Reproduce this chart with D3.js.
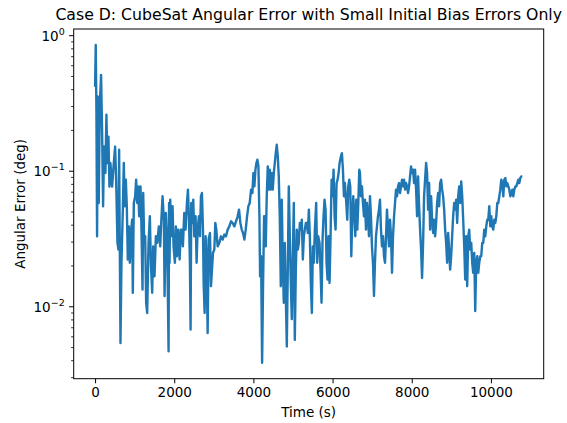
<!DOCTYPE html>
<html>
<head>
<meta charset="utf-8">
<script src="https://cdn.jsdelivr.net/npm/d3@7"></script>
<style>
  body { margin: 0; background: #fff; }
  svg text { font-family: "DejaVu Sans", sans-serif; fill: #000; }
</style>
</head>
<body>
<svg id="chart" width="567" height="423"></svg>
<script>
// time samples (s)
var times = [
  0, 17, 34, 51, 68, 93, 118, 152, 177, 203, 228, 262, 287, 312, 338, 363, 388, 431, 473, 507,
  532, 566, 591, 608, 625, 642, 667, 701, 726, 751, 777, 802, 827, 853, 878, 912, 937, 954, 979, 1013,
  1038, 1064, 1089, 1114, 1148, 1173, 1199, 1216, 1241, 1266, 1291, 1317, 1351, 1384, 1410, 1443, 1469, 1502, 1536, 1570,
  1612, 1646, 1671, 1705, 1739, 1756, 1789, 1823, 1857,
  1870, 1882, 1899, 1932, 1958, 1983, 2017, 2042, 2067, 2101, 2135, 2169, 2194, 2219, 2253, 2287, 2321, 2346, 2371, 2396,
  2413, 2430, 2456, 2481, 2506, 2540, 2565, 2591, 2624, 2650, 2675, 2700, 2726, 2743, 2768, 2793, 2818, 2844, 2869, 2903,
  2928, 2954, 2979, 3013, 3038, 3063, 3097, 3139, 3181, 3224, 3266, 3308, 3350, 3392, 3435, 3477, 3519, 3561, 3603, 3637,
  3671, 3705, 3738, 3772, 3806, 3840, 3873, 3907, 3941, 3975, 4000, 4025, 4051, 4076, 4101, 4127, 4152, 4169, 4194, 4220,
  4245, 4270,
  4287, 4312, 4337, 4363, 4388, 4413, 4439, 4464, 4489, 4515, 4540, 4565, 4590, 4616, 4641, 4666, 4692, 4717, 4742, 4768,
  4793, 4818, 4844, 4869, 4894, 4920, 4945, 4970, 4996, 5021, 5046, 5072, 5097, 5122, 5148, 5173, 5198, 5223, 5249, 5274,
  5299, 5325, 5350, 5375, 5401, 5426, 5451, 5477, 5502, 5527, 5553, 5586, 5612, 5637, 5671, 5696, 5721, 5747, 5772, 5797,
  5823, 5848, 5873, 5899, 5924, 5949, 5975, 6000, 6025, 6051, 6076, 6101, 6127, 6152, 6177, 6211, 6236, 6262, 6287, 6312,
  6346, 6371, 6397, 6422, 6447, 6473, 6498, 6523, 6549, 6574, 6599, 6625, 6650, 6675,
  6692, 6717, 6742, 6768, 6793, 6818, 6844, 6869, 6894, 6920, 6945, 6970, 6995, 7021, 7046, 7071, 7097, 7122, 7147, 7173,
  7198, 7223, 7249, 7274, 7299, 7325, 7350, 7375, 7401, 7426, 7451, 7477, 7502, 7527, 7553, 7578, 7603, 7628, 7654, 7679,
  7704, 7730, 7755, 7780, 7806, 7831, 7856, 7882, 7907, 7932, 7958, 7983, 8008, 8034, 8059, 8084, 8110, 8135, 8160, 8186,
  8211, 8236, 8261, 8287, 8312, 8337, 8363, 8388, 8413, 8439, 8464, 8489, 8515, 8540, 8565, 8591, 8616, 8641, 8667, 8692,
  8717, 8743, 8768, 8793, 8819, 8844, 8869, 8894, 8920, 8945, 8970, 8996, 9021, 9046, 9072,
  9098, 9123, 9148, 9174, 9199, 9224, 9250, 9275, 9300, 9326, 9351, 9376, 9401, 9427, 9452, 9477, 9503, 9528, 9553, 9579,
  9604, 9629, 9655, 9680, 9705, 9731, 9756, 9781, 9807, 9832, 9857, 9883, 9908, 9933, 9959, 9984, 10009, 10034, 10060, 10085,
  10110, 10136, 10161, 10186, 10212, 10237, 10262, 10288, 10313, 10338, 10364, 10389, 10414, 10440, 10465, 10490, 10516, 10541, 10566, 10591,
  10617, 10642, 10667, 10693, 10718, 10743, 10769, 10794
];

// angular error (deg)
var angErr = [
  0.42, 0.855, 0.284, 0.0331, 0.356, 0.0583, 0.300, 0.514, 0.202, 0.0551, 0.152, 0.097, 0.261, 0.115, 0.18, 0.077, 0.115, 0.077, 0.115, 0.152,
  0.087, 0.0296, 0.0264, 0.144, 0.0264, 0.0054, 0.0211, 0.0521, 0.115, 0.0551, 0.0866, 0.0551, 0.0223, 0.0392, 0.0211, 0.0371, 0.0439, 0.0127, 0.0583, 0.0653,
  0.0866, 0.0583, 0.0773, 0.0465, 0.0773, 0.0371, 0.0134, 0.0691, 0.0296, 0.0331, 0.0107, 0.0090, 0.0296, 0.0465, 0.0211, 0.0127, 0.0279, 0.0168, 0.0331, 0.0296,
  0.0392, 0.0279, 0.0415, 0.0653, 0.0439, 0.0120, 0.0492, 0.0296, 0.0047,
  0.0583, 0.0211, 0.0617, 0.0331, 0.0551, 0.0279, 0.0211, 0.0392, 0.0236, 0.0371, 0.0223, 0.0371, 0.0371, 0.0279, 0.0492, 0.0371, 0.0583, 0.0731, 0.0465, 0.0211,
  0.0068, 0.0583, 0.0415, 0.0617, 0.0331, 0.0465, 0.0211, 0.0371, 0.0465, 0.0331, 0.0653, 0.0691, 0.0371, 0.0150, 0.0090, 0.0331, 0.0211, 0.0064, 0.0313, 0.0350,
  0.0142, 0.0188, 0.0250, 0.0264, 0.0415, 0.0371, 0.0279, 0.0296, 0.0331, 0.0313, 0.0341, 0.0331, 0.0371, 0.0392, 0.0427, 0.0415, 0.0392, 0.0427, 0.0465, 0.0521,
  0.0415, 0.0371, 0.0350, 0.0313, 0.0371, 0.0465, 0.0551, 0.0583, 0.0731, 0.0691, 0.0969, 0.0773, 0.1026, 0.1149, 0.1216, 0.1085, 0.0465, 0.0168, 0.0236, 0.00386,
  0.0150, 0.0465,
  0.0465, 0.0279, 0.0653, 0.1085, 0.0731, 0.1026, 0.0731, 0.0969, 0.0731, 0.0969, 0.1149, 0.136, 0.1567, 0.1286, 0.0916, 0.0465, 0.0142, 0.0617, 0.0211, 0.0107,
  0.0296, 0.0120, 0.0051, 0.0188, 0.0773, 0.0331, 0.0150, 0.0081, 0.0236, 0.0583, 0.0057, 0.0188, 0.0371, 0.0264, 0.0296, 0.0415, 0.0371, 0.0439, 0.0223, 0.0331,
  0.0371, 0.0415, 0.0415, 0.0350, 0.0521, 0.0331, 0.0150, 0.0090, 0.0279, 0.0211, 0.0371, 0.0583, 0.0211, 0.0331, 0.0296, 0.0188, 0.0107, 0.0313, 0.0465, 0.0617,
  0.0521, 0.0211, 0.0159, 0.0331, 0.0150, 0.0331, 0.0866, 0.0653, 0.1026, 0.0465, 0.0371, 0.0818, 0.0866, 0.0969, 0.1149, 0.1286, 0.136, 0.1026, 0.0653, 0.0818,
  0.0583, 0.0439, 0.0773, 0.0866, 0.0773, 0.0236, 0.0465, 0.0653, 0.0465, 0.0331, 0.0617, 0.0371, 0.0583, 0.1026,
  0.0969, 0.0653, 0.0773, 0.0583, 0.0465, 0.0617, 0.0371, 0.0583, 0.0465, 0.0331, 0.0653, 0.0465, 0.0279, 0.0211, 0.0120, 0.0211, 0.0331, 0.0392, 0.0465, 0.0521,
  0.0617, 0.0371, 0.0279, 0.0331, 0.0236, 0.0211, 0.0331, 0.0521, 0.0371, 0.0279, 0.0439, 0.0331, 0.0178, 0.0331, 0.0465, 0.0583, 0.0731, 0.0653, 0.0773, 0.0818,
  0.0691, 0.0773, 0.0866, 0.0773, 0.0866, 0.0731, 0.0818, 0.0773, 0.0691, 0.0773, 0.0916, 0.1085, 0.0969, 0.1026, 0.0818, 0.1026, 0.0731, 0.0465, 0.0916, 0.0551,
  0.0371, 0.0264, 0.0163, 0.0296, 0.0653, 0.0866, 0.1149, 0.0969, 0.0521, 0.0818, 0.0371, 0.0653, 0.0439, 0.0350, 0.0439, 0.0331, 0.0415, 0.0583, 0.0691, 0.0551,
  0.0818, 0.0866, 0.0731, 0.0653, 0.0521, 0.0371, 0.0296, 0.0211, 0.0350, 0.0264, 0.0188, 0.0236, 0.0331, 0.0465, 0.0583,
  0.0521, 0.0617, 0.0415, 0.0653, 0.0773, 0.0583, 0.0842, 0.0653, 0.0439, 0.0279, 0.0159, 0.0331, 0.0142, 0.0331, 0.0371, 0.0264, 0.0296, 0.0211, 0.0178, 0.0250,
  0.0093, 0.0211, 0.0236, 0.0178, 0.0211, 0.0236, 0.0236, 0.0296, 0.0296, 0.0371, 0.0331, 0.0392, 0.0439, 0.0439, 0.0551, 0.0392, 0.0465, 0.0392, 0.0371, 0.0439,
  0.0415, 0.0465, 0.0583, 0.0583, 0.0653, 0.0731, 0.0866, 0.0818, 0.0653, 0.0866, 0.0891, 0.0773, 0.0818, 0.0773, 0.0731, 0.0653, 0.0691, 0.0731, 0.0653, 0.0731,
  0.0773, 0.0773, 0.0818, 0.0866, 0.0818, 0.0891, 0.0916, 0.0916
];

var xTicks = [0, 2000, 4000, 6000, 8000, 10000];
var yMajor = [1e-2, 1e-1, 1];
var yMajorExp = ['-2', '-1', '0'];

var titleText = 'Case D: CubeSat Angular Error with Small Initial Bias Errors Only';
var xLabel = 'Time (s)';
var yLabel = 'Angular Error (deg)';

var svg = d3.select('#chart');
var plotL = 73.7, plotR = 543.7, plotT = 29, plotB = 378.7;

// matplotlib style 5% margins
var tmin = d3.min(times), tmax = d3.max(times);
var tpad = (tmax - tmin) * 0.05;
var lmin = Math.log10(d3.min(angErr)), lmax = Math.log10(d3.max(angErr));
var lpad = (lmax - lmin) * 0.05;

var xscale = d3.scaleLinear()
	.domain([tmin - tpad, tmax + tpad])
	.range([plotL, plotR]);

var yscale = d3.scaleLog()
	.domain([Math.pow(10, lmin - lpad), Math.pow(10, lmax + lpad)])
	.range([plotB, plotT]);

// data line
var coords = times.map((d, i) => [d, angErr[i]]);
var line = d3.line()
	.x(d => xscale(d[0]))
	.y(d => yscale(d[1]));

svg.append('defs').append('clipPath')
	.attr('id', 'clip')
	.append('rect')
	.attr('x', plotL).attr('y', plotT)
	.attr('width', plotR - plotL).attr('height', plotB - plotT);

svg.append('path')
	.datum(coords)
	.attr('clip-path', 'url(#clip)')
	.attr('d', line)
	.attr('fill', 'none')
	.attr('stroke', '#1f77b4')
	.attr('stroke-width', 2.4)
	.attr('stroke-linejoin', 'round');

// x axis
var xaxis = d3.axisBottom(xscale)
	.tickValues(xTicks)
	.tickFormat(d3.format('d'))
	.tickSize(4.6)
	.tickPadding(4.5);

var gx = svg.append('g')
	.attr('transform', 'translate(0,' + plotB + ')')
	.call(xaxis);
gx.select('.domain').remove();
gx.selectAll('text').attr('font-size', 13.5).attr('font-family', 'DejaVu Sans').attr('fill', '#000');
gx.selectAll('line').attr('stroke', '#000');

// y axis, majors and minors
var yDom = yscale.domain();
var minors = [];
for (var e = -3; e <= 0; e++) {
	for (var m = 2; m <= 9; m++) {
		var v = m * Math.pow(10, e);
		if (v >= yDom[0] && v <= yDom[1]) minors.push(v);
	}
}

var gy = svg.append('g').attr('transform', 'translate(' + plotL + ',0)');
gy.selectAll('.ymin').data(minors).enter().append('line')
	.attr('x1', 0).attr('x2', -2.6)
	.attr('y1', d => yscale(d)).attr('y2', d => yscale(d))
	.attr('stroke', '#000').attr('stroke-width', 0.8);
gy.selectAll('.ymaj').data(yMajor).enter().append('line')
	.attr('x1', 0).attr('x2', -4.6)
	.attr('y1', d => yscale(d)).attr('y2', d => yscale(d))
	.attr('stroke', '#000').attr('stroke-width', 1);

var ylab = gy.selectAll('.ylab').data(yMajor).enter().append('text')
	.attr('x', -9)
	.attr('y', d => yscale(d) + 5)
	.attr('text-anchor', 'end')
	.attr('font-size', 13.5);
ylab.append('tspan').text('10');
ylab.append('tspan')
	.attr('dy', -6)
	.attr('font-size', 9.5)
	.text((d, i) => yMajorExp[i].replace('-', '\u2212'));

// frame
svg.append('rect')
	.attr('x', plotL).attr('y', plotT)
	.attr('width', plotR - plotL).attr('height', plotB - plotT)
	.attr('fill', 'none')
	.attr('stroke', '#000')
	.attr('stroke-width', 1);

// labels
svg.append('text')
	.attr('x', (plotL + plotR) / 2).attr('y', 20)
	.attr('text-anchor', 'middle')
	.attr('font-size', 15.7)
	.text(titleText);

svg.append('text')
	.attr('x', (plotL + plotR) / 2).attr('y', 417)
	.attr('text-anchor', 'middle')
	.attr('font-size', 13.5)
	.text(xLabel);

svg.append('text')
	.attr('transform', 'translate(25,' + ((plotT + plotB) / 2) + ') rotate(-90)')
	.attr('text-anchor', 'middle')
	.attr('font-size', 13.5)
	.text(yLabel);
</script>
</body>
</html>
